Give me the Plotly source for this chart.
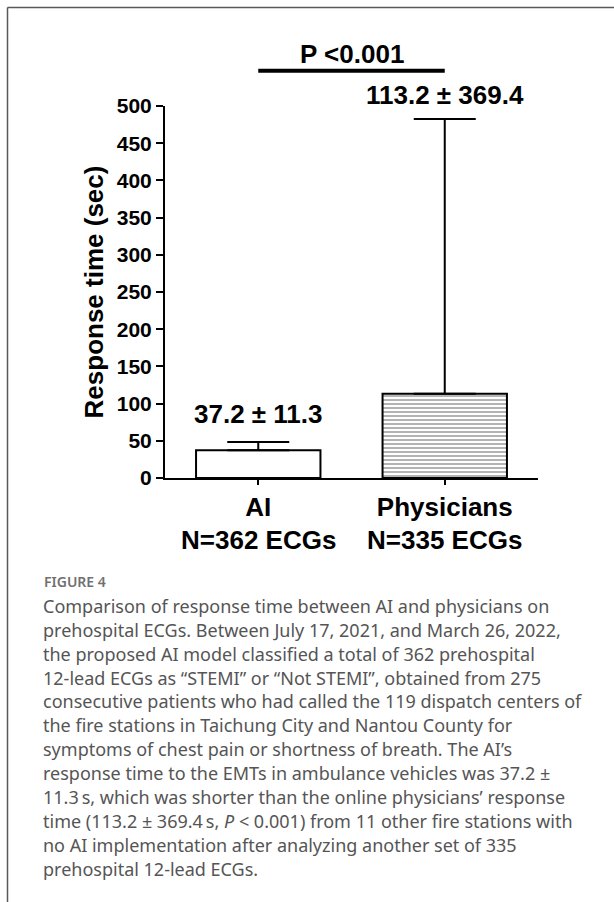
import plotly.graph_objects as go

# ---------------- data ----------------
categories = ["AI", "Physicians"]
n_ecgs = [362, 335]
mean_response = [37.2, 113.2]
sd_response = [11.3, 369.4]
p_value_text = "P <0.001"
y_ticks = [0, 50, 100, 150, 200, 250, 300, 350, 400, 450, 500]
y_title = "Response time (sec)"

figure_label = "FIGURE 4"
caption_lines = [
    "Comparison of response time between AI and physicians on",
    "prehospital ECGs. Between July 17, 2021, and March 26, 2022,",
    "the proposed AI model classified a total of 362 prehospital",
    "12-lead ECGs as \u201cSTEMI\u201d or \u201cNot STEMI\u201d, obtained from 275",
    "consecutive patients who had called the 119 dispatch centers of",
    "the fire stations in Taichung City and Nantou County for",
    "symptoms of chest pain or shortness of breath. The AI\u2019s",
    "response time to the EMTs in ambulance vehicles was 37.2 \u00b1",
    "11.3\u2009s, which was shorter than the online physicians\u2019 response",
    "time (113.2 \u00b1 369.4\u2009s, <i>P</i> < 0.001) from 11 other fire stations with",
    "no AI implementation after analyzing another set of 335",
    "prehospital 12-lead ECGs.",
]

# ---------------- layout geometry ----------------
W, H = 614, 902
ML, MR, MT, MB = 165, 76, 106, 424
PW, PH = W - ML - MR, H - MT - MB


def px(p):
    return (p - ML) / PW


def py(p):
    return (H - MB - p) / PH


BOLD = "Liberation Sans, Arial, sans-serif"
CAP = "Noto Sans, Open Sans, sans-serif"

fig = go.Figure()
fig.add_trace(
    go.Bar(
        x=categories,
        y=mean_response,
        width=0.667,
        marker=dict(
            color=["white", "white"],
            line=dict(color="black", width=2),
            pattern=dict(
                shape=["", "-"],
                fgcolor="#8a8a8a",
                bgcolor="white",
                size=4,
                solidity=0.4,
            ),
        ),
        error_y=dict(
            type="data",
            symmetric=False,
            array=sd_response,
            arrayminus=[0] * len(sd_response),
            color="black",
            thickness=2,
            width=31,
        ),
        showlegend=False,
        hoverinfo="skip",
    )
)

annotations = []
label_shift = [11, 7]
for c, m, s, sh in zip(categories, mean_response, sd_response, label_shift):
    annotations.append(
        dict(
            x=c, y=m + s, xref="x", yref="y",
            text=f"{m} \u00b1 {s}",
            showarrow=False, yanchor="bottom", yshift=sh,
            font=dict(family=BOLD, size=26, color="black", weight="bold"),
        )
    )

# second line of the category labels (sample sizes)
for c, n in zip(categories, n_ecgs):
    annotations.append(
        dict(
            x=c, y=py(540), xref="x", yref="paper",
            text=f"N={n} ECGs", showarrow=False, yanchor="middle",
            font=dict(family=BOLD, size=26, color="black", weight="bold"),
        )
    )

# significance bracket text
annotations.append(
    dict(
        x=0.5, y=py(53.6), xref="x", yref="paper",
        text=p_value_text, showarrow=False, yanchor="middle",
        font=dict(family=BOLD, size=26, color="black", weight="bold"),
    )
)

annotations.append(
    dict(
        x=px(42), y=py(581.3), xref="paper", yref="paper",
        text=figure_label, showarrow=False, xanchor="left", yanchor="middle",
        font=dict(family=CAP, size=14, color="#707070", weight=600),
    )
)
for i, line in enumerate(caption_lines):
    baseline = 612.7 + 23.9 * i
    annotations.append(
        dict(
            x=px(41), y=py(baseline - 6.9), xref="paper", yref="paper",
            text=line, showarrow=False, xanchor="left", yanchor="middle",
            font=dict(family=CAP, size=18, color="#555555"),
        )
    )

shapes = [
    # significance bracket
    dict(type="line", xref="x", yref="paper", x0=0, x1=1,
         y0=py(70.7), y1=py(70.7), line=dict(color="black", width=4)),
    # figure frame
    dict(type="line", xref="paper", yref="paper", x0=px(7.5), x1=px(620),
         y0=py(7.5), y1=py(7.5), line=dict(color="#5a5a5a", width=1.5)),
    dict(type="line", xref="paper", yref="paper", x0=px(7.5), x1=px(7.5),
         y0=py(7.5), y1=py(910), line=dict(color="#5a5a5a", width=1.5)),
]

fig.update_layout(
    width=W, height=H,
    margin=dict(l=ML, r=MR, t=MT, b=MB, pad=0),
    paper_bgcolor="white", plot_bgcolor="white",
    annotations=annotations,
    shapes=shapes,
    hovermode=False,
    xaxis=dict(
        range=[-0.5, 1.5],
        tickmode="array", tickvals=categories, ticktext=categories,
        ticks="outside", ticklen=5, tickwidth=2, tickcolor="black",
        showline=True, linecolor="black", linewidth=2,
        showgrid=False, zeroline=False,
        tickfont=dict(family=BOLD, size=26, color="black", weight="bold"),
        ticklabelstandoff=0,
    ),
    yaxis=dict(
        range=[0, 500],
        tickmode="array", tickvals=y_ticks,
        ticks="outside", ticklen=7, tickwidth=2, tickcolor="black",
        showline=True, linecolor="black", linewidth=2,
        showgrid=False, zeroline=False,
        tickfont=dict(family=BOLD, size=21, color="black", weight="bold"),
        title=dict(text=y_title, standoff=6,
                   font=dict(family=BOLD, size=26, color="black", weight="bold")),
    ),
)

fig.write_html(
    "out.html",
    config={"displayModeBar": False},
    post_script="document.body.style.margin='0';document.body.style.padding='0';",
)
